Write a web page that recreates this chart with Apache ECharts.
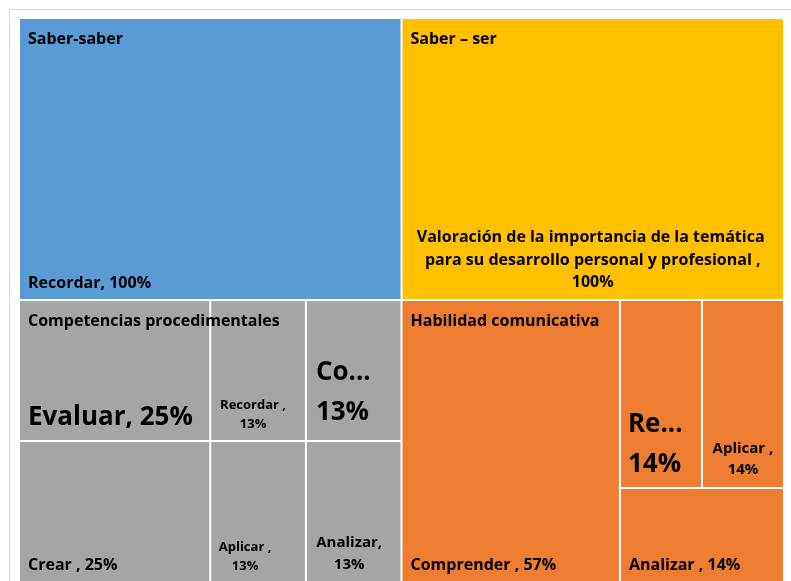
<!DOCTYPE html>
<html>
<head>
<meta charset="utf-8">
<script src="https://cdn.jsdelivr.net/npm/echarts@6/dist/echarts.min.js"></script>
<style>
html,body{margin:0;padding:0;background:#ffffff;}
#chart{width:791px;height:581px;}
</style>
</head>
<body>
<div id="chart"></div>
<script>
// ---- data ----
const groupNames = ['Saber-saber', 'Competencias procedimentales', 'Saber – ser', 'Habilidad comunicativa'];
const groupColors = ['#5B9BD5', '#A5A5A5', '#FFC000', '#ED7D31'];
const leafNames = [
  ['Recordar'],
  ['Evaluar', 'Crear ', 'Recordar ', 'Comprender ', 'Aplicar ', 'Analizar'],
  ['Valoración de la importancia de la temática para su desarrollo personal y profesional '],
  ['Comprender ', 'Recordar ', 'Aplicar ', 'Analizar ']
];
const leafValues = [
  [100],
  [25, 25, 12.5, 12.5, 12.5, 12.5],
  [100],
  [57.1, 14.3, 14.3, 14.3]
];

// ---- label styles (per leaf) ----
const FONT = 'Open Sans';
const leafLabelStyles = [
  [{ center: false, fs: 16, lh: 20, wrap: false, pad: [0, 7, 6, 8] }],
  [
    { center: false, fs: 26, lh: 32, wrap: false, pad: [0, 7, 6, 8] },
    { center: false, fs: 16, lh: 20, wrap: false, pad: [0, 7, 6, 8] },
    { center: true, fs: 13, lh: 19, wrap: true, pad: [0, 12, 6, 2] },
    { center: false, fs: 26, lh: 40, wrap: true, pad: [0, 20, 7, 9] },
    { center: true, fs: 13, lh: 19, wrap: true, pad: [0, 28, 5, 2] },
    { center: true, fs: 15, lh: 22, wrap: true, pad: [0, 11, 5, 2] }
  ],
  [{ center: true, fs: 16, lh: 22.5, wrap: true, overflow: 'break', pad: [0, 8, 5, 8] }],
  [
    { center: false, fs: 16, lh: 20, wrap: false, pad: [0, 7, 6, 8] },
    { center: false, fs: 26, lh: 40, wrap: true, pad: [0, 14, 2, 7] },
    { center: true, fs: 15, lh: 21, wrap: true, pad: [0, 4, 7, 4] },
    { center: false, fs: 16, lh: 20, wrap: false, pad: [0, 7, 6, 8] }
  ]
];

function leafLabel(s) {
  return {
    show: true,
    position: s.center ? 'insideBottom' : 'insideBottomLeft',
    distance: 0,
    padding: s.pad,
    fontFamily: FONT,
    fontWeight: 'bold',
    fontSize: s.fs,
    lineHeight: s.lh,
    color: '#000000',
    overflow: s.overflow || 'truncate',
    formatter: function (p) {
      return p.name + ',' + (s.wrap ? '\n' : ' ') + Math.round(p.value) + '%';
    }
  };
}

const treeData = groupNames.map(function (g, gi) {
  return {
    name: g,
    itemStyle: { color: groupColors[gi] },
    children: leafNames[gi].map(function (n, li) {
      return {
        name: n,
        value: leafValues[gi][li],
        itemStyle: { color: groupColors[gi] },
        label: leafLabel(leafLabelStyles[gi][li])
      };
    })
  };
});

const groupData = groupNames.map(function (g, gi) {
  return {
    name: g,
    value: leafValues[gi].reduce(function (a, b) { return a + b; }, 0),
    itemStyle: { color: 'rgba(0,0,0,0)', borderColor: 'rgba(0,0,0,0)', borderWidth: 0 }
  };
});

const area = { left: 19, top: 18, width: 765, height: 564 };
const common = {
  type: 'treemap',
  left: area.left, top: area.top, width: area.width, height: area.height,
  squareRatio: 1.3,
  sort: false,
  roam: false,
  nodeClick: false,
  animation: false,
  breadcrumb: { show: false },
  emphasis: { disabled: true }
};

const chart = echarts.init(document.getElementById('chart'), null, { renderer: 'canvas' });
chart.setOption({
  backgroundColor: '#ffffff',
  animation: false,
  graphic: [{
    type: 'rect', silent: true, z: -1,
    shape: { x: 9.5, y: 9.5, width: 900, height: 900 },
    style: { fill: 'none', stroke: '#D9D9D9', lineWidth: 1 }
  }],
  series: [
    Object.assign({}, common, {
      name: 'leaves',
      z: 2,
      levels: [
        { itemStyle: { borderWidth: 0, gapWidth: 0 } },
        { itemStyle: { borderWidth: 0, gapWidth: 0 } },
        { itemStyle: { borderWidth: 1, borderColor: '#ffffff', gapWidth: 0 } }
      ],
      data: treeData
    }),
    Object.assign({}, common, {
      name: 'groups',
      z: 5,
      silent: true,
      levels: [
        { itemStyle: { borderWidth: 0, gapWidth: 0, borderColor: 'rgba(0,0,0,0)' } },
        { itemStyle: { borderWidth: 0, gapWidth: 0, color: 'rgba(0,0,0,0)', borderColor: 'rgba(0,0,0,0)' } }
      ],
      label: {
        show: true,
        position: 'insideTopLeft',
        distance: 0,
        padding: [11, 8, 0, 9],
        fontFamily: FONT,
        fontWeight: 'bold',
        fontSize: 16,
        lineHeight: 20,
        color: '#000000',
        formatter: '{b}'
      },
      data: groupData
    })
  ]
});
</script>
</body>
</html>
